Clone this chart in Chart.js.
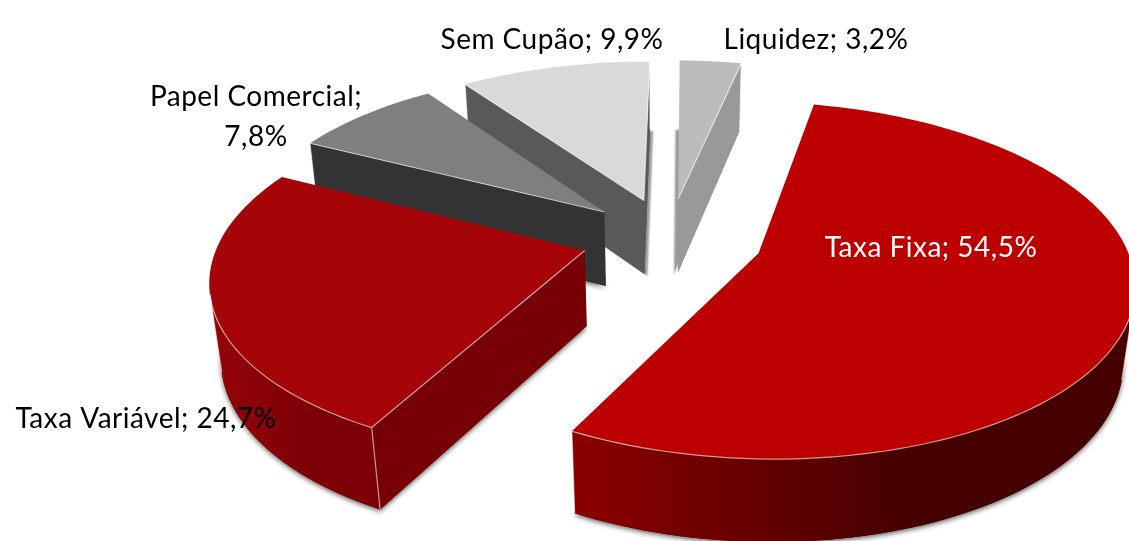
<!DOCTYPE html>
<html lang="pt">
<head>
    <meta charset="UTF-8">
    <title>Composição por indexador</title>
    <script src="https://cdn.jsdelivr.net/npm/chart.js"></script>
    <style>
        html, body { margin: 0; padding: 0; background: #ffffff; }
        .chart-container { position: relative; width: 1129px; height: 541px; overflow: hidden; }
    </style>
</head>
<body>
    <div class="chart-container">
        <canvas id="pieChart"></canvas>
    </div>

    <script>
        const categories = ['Taxa Fixa', 'Taxa Variável', 'Papel Comercial', 'Sem Cupão', 'Liquidez'];
        const shares = [54.5, 24.7, 7.8, 9.9, 3.2];

        // colours per slice: top face, flat cut wall, rim gradient (left to right)
        const topColors = ['#bc0000', '#a50409', '#7f7f7f', '#d9d9d9', '#bcbcbc'];
        const cutColors = ['#6e0000', '#760006', '#333333', '#595959', '#999999'];
        const rimLeft = ['#8c0000', '#960309', '#333333', '#595959', '#999999'];
        const rimRight = ['#450000', '#7c0006', '#333333', '#595959', '#999999'];

        // how far each slice is pulled out of the pie
        const sliceOffsets = [184, 171, 171, 171, 171];

        // soft shadow under each slice
        const shadowBlurs = [5, 5, 5, 2, 2];
        const shadowShifts = [0, 0, 0, 3, -4];
        const shadowAlphas = [0.6, 0.6, 0.6, 0.4, 0.4];

        // label anchors, same order as categories
        const labelX = [931, 146, 256, 552, 816];
        const labelY = [248, 419, 97, 40, 40];
        const labelColors = ['#ffffff', '#000000', '#000000', '#000000', '#000000'];
        const labelWrapped = [false, false, true, false, false];

        // camera used to tilt the pie
        const originX = 669, originY = 238;
        const scaleX = 365, scaleY = 170, thickness = 77;
        const perspective = 0.15, depthShrink = 0.025;

        function project(u, v, z) {
            const w = 1 - perspective * v + depthShrink * z;
            return { x: originX + scaleX * u / w, y: originY + (scaleY * v + thickness * z) / w };
        }

        function tracePath(ctx, points) {
            ctx.beginPath();
            points.forEach((p, i) => i ? ctx.lineTo(p.x, p.y) : ctx.moveTo(p.x, p.y));
        }

        // outline of one slice on the unit pie, read from the arc the library laid out
        function sliceOutline(arc) {
            const R = arc.outerRadius;
            const mid = (arc.startAngle + arc.endAngle) / 2;
            const shift = (arc.options.offset || 0) / 4 / R;
            const du = Math.cos(mid) * shift, dv = Math.sin(mid) * shift;
            const steps = Math.ceil((arc.endAngle - arc.startAngle) / 0.03);
            const pts = [{ u: du, v: dv }];
            for (let i = 0; i <= steps; i++) {
                const a = arc.startAngle + (arc.endAngle - arc.startAngle) * i / steps;
                pts.push({ u: du + Math.cos(a), v: dv + Math.sin(a) });
            }
            return pts;
        }

        const pie3d = {
            id: 'pie3d',
            beforeDatasetsDraw(chart) {
                const ctx = chart.ctx;
                const arcs = chart.getDatasetMeta(0).data;

                // back slices first
                for (let i = arcs.length - 1; i >= 0; i--) {
                    const outline = sliceOutline(arcs[i]);
                    const top = outline.map(p => project(p.u, p.v, 0));
                    const bottom = outline.map(p => project(p.u, p.v, 1));
                    const n = top.length;

                    // floor of the slice, only there to cast the soft shadow
                    ctx.save();
                    ctx.shadowColor = 'rgba(0,0,0,' + shadowAlphas[i] + ')';
                    ctx.shadowBlur = shadowBlurs[i];
                    ctx.shadowOffsetX = shadowShifts[i];
                    ctx.shadowOffsetY = 2;
                    ctx.fillStyle = cutColors[i];
                    tracePath(ctx, bottom);
                    ctx.closePath();
                    ctx.fill();
                    ctx.restore();

                    // which outline edges face the viewer
                    const faces = [];
                    for (let k = 0; k < n; k++) {
                        const j = (k + 1) % n;
                        const ex = top[j].x - top[k].x, ey = top[j].y - top[k].y;
                        const dx = bottom[k].x - top[k].x, dy = bottom[k].y - top[k].y;
                        faces.push(ex * dy - ey * dx < 0);
                    }

                    // flat cut walls: first and last edge of the outline
                    [0, n - 1].forEach(k => {
                        if (!faces[k]) return;
                        const j = (k + 1) % n;
                        ctx.fillStyle = cutColors[i];
                        tracePath(ctx, [top[k], top[j], bottom[j], bottom[k]]);
                        ctx.closePath();
                        ctx.fill();
                    });

                    // rounded rim, front part only
                    const rimIdx = [];
                    for (let k = 1; k < n - 1; k++) if (faces[k]) rimIdx.push(k);
                    let rimTop = [];
                    if (rimIdx.length) {
                        rimTop = rimIdx.map(k => top[k]).concat(top[rimIdx[rimIdx.length - 1] + 1]);
                        const rimBottom = rimIdx.map(k => bottom[k]).concat(bottom[rimIdx[rimIdx.length - 1] + 1]);
                        const xs = rimTop.map(p => p.x);
                        const x0 = Math.min(...xs), x1 = Math.max(...xs);
                        const g = ctx.createLinearGradient(x0, 0, x0 + (x1 - x0) * 0.6, 0);
                        g.addColorStop(0, rimLeft[i]);
                        g.addColorStop(1, rimRight[i]);
                        ctx.fillStyle = g;
                        tracePath(ctx, rimTop.concat(rimBottom.slice().reverse()));
                        ctx.closePath();
                        ctx.fill();
                    }

                    // top face
                    ctx.fillStyle = topColors[i];
                    tracePath(ctx, top);
                    ctx.closePath();
                    ctx.fill();

                    // pale seams between the visible faces
                    ctx.strokeStyle = 'rgba(255,255,255,0.6)';
                    ctx.lineWidth = 1.2;
                    if (rimTop.length) {
                        tracePath(ctx, rimTop);
                        ctx.stroke();
                    }
                    [0, n - 1].forEach(k => {
                        if (!faces[k]) return;
                        const j = (k + 1) % n;
                        tracePath(ctx, [top[k], top[j]]);
                        ctx.stroke();
                    });
                    for (let k = 1; k < n; k++) {
                        const prev = k - 1;
                        const isCorner = k === 1 || k === n - 1;
                        if (faces[k] !== faces[prev] || (isCorner && faces[k] && faces[prev])) {
                            tracePath(ctx, [top[k], bottom[k]]);
                            ctx.stroke();
                        }
                    }
                }
                return false;
            },
            afterDraw(chart) {
                const ctx = chart.ctx;
                ctx.save();
                ctx.font = '28px Lato, "Open Sans", sans-serif';
                ctx.letterSpacing = '0.5px';
                ctx.textAlign = 'center';
                ctx.textBaseline = 'middle';
                categories.forEach((name, i) => {
                    const value = shares[i].toFixed(1).replace('.', ',') + '%';
                    ctx.fillStyle = labelColors[i];
                    if (labelWrapped[i]) {
                        ctx.fillText(name + ';', labelX[i], labelY[i]);
                        ctx.fillText(value, labelX[i], labelY[i] + 40);
                    } else {
                        ctx.fillText(name + '; ' + value, labelX[i], labelY[i]);
                    }
                });
                ctx.restore();
            }
        };

        new Chart(document.getElementById('pieChart'), {
            type: 'pie',
            data: {
                labels: categories,
                datasets: [{
                    data: shares,
                    backgroundColor: topColors,
                    borderWidth: 0,
                    offset: sliceOffsets
                }]
            },
            options: {
                responsive: true,
                maintainAspectRatio: false,
                animation: false,
                rotation: 12,
                plugins: { legend: { display: false }, tooltip: { enabled: false } }
            },
            plugins: [pie3d]
        });
    </script>
</body>
</html>
